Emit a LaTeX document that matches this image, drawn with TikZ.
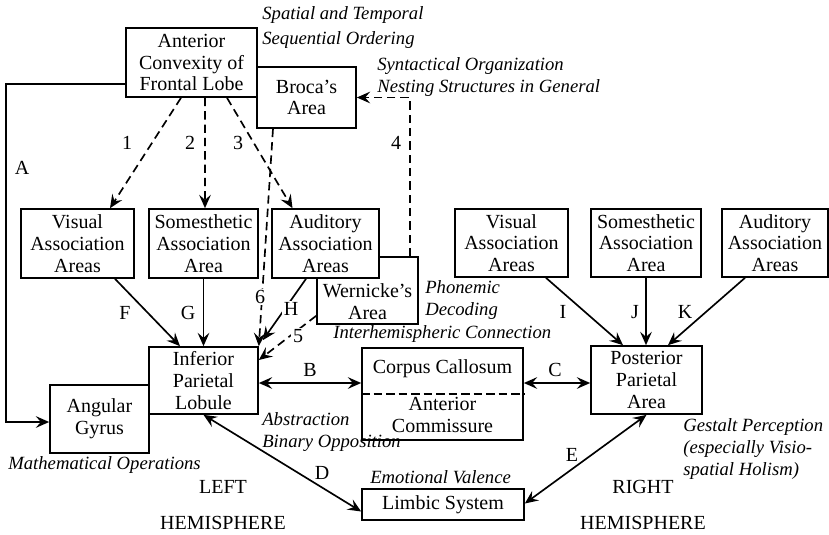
\documentclass[tikz,border=0pt]{standalone}
\usepackage{fontspec}
\setmainfont{Liberation Serif}
\usepackage{tikz}
\usetikzlibrary{arrows.meta,positioning,calc}

\begin{document}
\begin{tikzpicture}[
  x=0.6pt,y=-0.6pt,
  region/.style={rectangle,draw,fill=white,line width=1pt,align=center,inner sep=0pt,
    font=\fontsize{12}{13}\selectfont},
  sz/.style 2 args={minimum width=#1*0.6pt,minimum height=#2*0.6pt},
  note/.style={font=\fontsize{11.2}{13.2}\selectfont\itshape,align=left,inner sep=0pt,anchor=west},
  tag/.style={font=\fontsize{12}{13}\selectfont,inner sep=0pt},
  gap/.style={tag,fill=white,inner sep=1pt},
  link/.style={-{Stealth[length=8pt,width=7pt,inset=3pt]},line width=1pt},
  both/.style={{Stealth[length=8pt,width=7pt,inset=3pt]}-{Stealth[length=8pt,width=7pt,inset=3pt]},line width=1pt},
  dlink/.style={link,dash pattern=on 5pt off 3pt},
]
\useasboundingbox (0,0) rectangle (829,534);

% left hemisphere
\node[region,sz={99}{61}] (broca) at (306.5,97.5) {Broca's\\Area};
\node[region,sz={131}{69}] (front) at (191.5,62.5) {Anterior\\Convexity of\\Frontal Lobe};
\node[region,sz={113}{69}] (visL) at (77.5,243.5) {Visual\\Association\\Areas};
\node[region,sz={109}{69}] (somL) at (203.5,243.5) {Somesthetic\\Association\\Area};
\node[region,sz={101}{67}] (wern) at (367.5,290.5) {};
\node[tag,align=center] (wernlbl) at (367.5,301.5) {Wernicke's\\Area};
\node[region,sz={107}{69}] (audL) at (325.5,243.5) {Auditory\\Association\\Areas};
\node[region,sz={109}{67}] (infpar) at (203.5,380.5) {Inferior\\Parietal\\Lobule};
\node[region,sz={99}{68}] (angular) at (99.5,419) {Angular\\Gyrus};

% midline
\node[region,sz={161}{92}] (corpus) at (442.5,394) {};
\draw[line width=1pt,dash pattern=on 5pt off 2.5pt] (corpus.west) -- (corpus.east);
\node[tag] (cc) at (442.5,369) {Corpus Callosum};
\node[tag,align=center] (ac) at (442.5,415) {Anterior\\Commissure};
\node[region,sz={162}{31}] (limbic) at (443,504.5) {Limbic System};

% right hemisphere
\node[region,sz={113}{68}] (visR) at (511.5,243) {Visual\\Association\\Areas};
\node[region,sz={110}{68}] (somR) at (646,243) {Somesthetic\\Association\\Area};
\node[region,sz={106}{68}] (audR) at (775,243) {Auditory\\Association\\Areas};
\node[region,sz={111}{68}] (postpar) at (646.5,380) {Posterior\\Parietal\\Area};

% connections
\draw[link] ([yshift=-12.9pt]front.west) -| ([xshift=-25.8pt,yshift=-1.8pt]angular.west)
  -- ([yshift=-1.8pt]angular.west);
\draw[dlink] ([xshift=-6.3pt]front.south) -- ([xshift=19.5pt]visL.north);
\draw[dlink] ([xshift=8.1pt]front.south) -- ([xshift=0.9pt]somL.north);
\draw[dlink] ([xshift=21.3pt]front.south) -- ([xshift=-19.8pt]audL.north);
\draw[dlink] ([xshift=25.5pt]wern.north) |- (broca.east);
\draw[dlink] ([xshift=-20.1pt]broca.south) -- (infpar.north east);
\draw[dlink] ([yshift=5.4pt]wern.south west) -- ([yshift=12.3pt]infpar.east);
\draw[link] ([xshift=-11.7pt]audL.south) -- ([xshift=2.4pt,yshift=3.6pt]infpar.north east);
\draw[link] ([xshift=22.5pt]visL.south) -- ([xshift=-14.1pt]infpar.north);
\draw[link] (somL.south) -- (infpar.north);
\draw[link] ([xshift=20.7pt]visR.south) -- ([xshift=-14.1pt]postpar.north);
\draw[link] (somR.south) -- (somR.south |- postpar.north);
\draw[link] ([xshift=-18pt]audR.south) -- ([xshift=12.9pt]postpar.north);
\draw[both] ([yshift=-1.5pt]infpar.east) -- ([yshift=6.6pt]corpus.west);
\draw[both] ([yshift=6.6pt]corpus.east) -- ([yshift=-1.8pt]postpar.west);
\draw[both] (infpar.south) -- ([yshift=-4.2pt]limbic.west);
\draw[both] ([yshift=0.6pt]limbic.east) -- (postpar.south);

% letters and numbers
\node[tag] (tA) at (22,168) {A};
\node[tag] (t1) at (127,143) {1};
\node[tag] (t2) at (190,143) {2};
\node[tag] (t3) at (238,143) {3};
\node[tag] (t4) at (396,143) {4};
\node[gap] (t5) at (298,336) {5};
\node[gap] (t6) at (260,297) {6};
\node[tag] (tF) at (125,313) {F};
\node[tag] (tG) at (188,313) {G};
\node[gap] (tH) at (291,309) {H};
\node[tag] (tI) at (563,312) {I};
\node[tag] (tJ) at (635,312) {J};
\node[tag] (tK) at (685,312) {K};
\node[tag] (tB) at (310,370) {B};
\node[tag] (tC) at (555,370) {C};
\node[tag] (tD) at (322,473) {D};
\node[tag] (tE) at (572,455) {E};

% functions
\node[note] (spatial) at (262,27.5) {Spatial and Temporal\\[1.5pt]Sequential Ordering};
\node[note] (syntax) at (377,77) {Syntactical Organization\\Nesting Structures in General};
\node[note] (phonemic) at (425,300.5) {Phonemic\\Decoding};
\node[note] (interhem) at (333,334) {Interhemispheric Connection};
\node[note] (abstract) at (262,432.5) {Abstraction\\Binary Opposition};
\node[note] (math) at (8,465) {Mathematical Operations};
\node[note] (emotion) at (370,477) {Emotional Valence};
\node[note] (gestalt) at (683,449) {Gestalt Perception\\(especially Visio-\\spatial Holism)};

% hemispheres
\node[tag] (left) at (223,487) {LEFT};
\node[tag] (lefthem) at (223,523) {HEMISPHERE};
\node[tag] (right) at (643,487) {RIGHT};
\node[tag] (righthem) at (643,523) {HEMISPHERE};
\end{tikzpicture}
\end{document}
